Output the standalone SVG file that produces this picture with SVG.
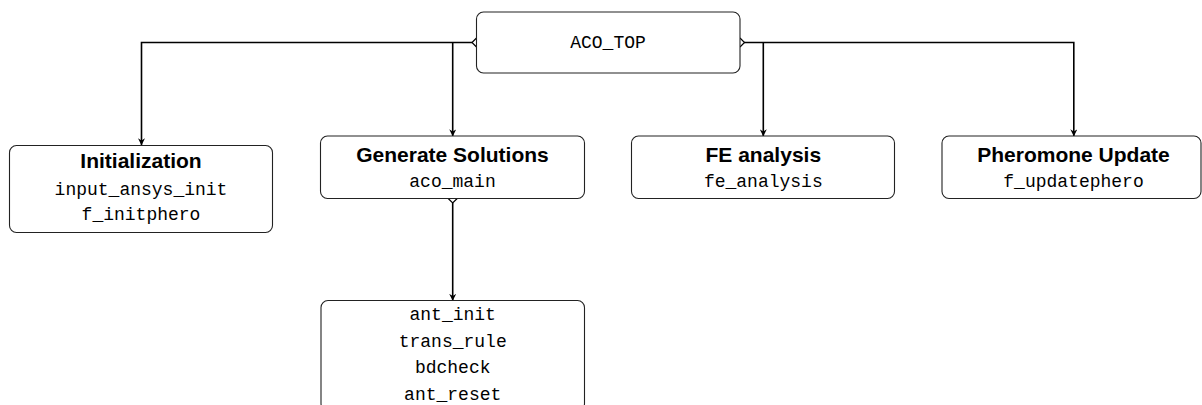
<svg xmlns="http://www.w3.org/2000/svg" width="1202" height="405" viewBox="0 0 1202 405">
<defs>
<style>
.box{fill:#fff;stroke:#222;stroke-width:1.1}
.ttl{font-family:"Liberation Sans",Arial,sans-serif;font-weight:bold;font-size:21px;fill:#000;text-anchor:middle}
.mono{font-family:"Liberation Mono","DejaVu Sans Mono",monospace;font-size:18px;fill:#000;text-anchor:middle}
.ln{fill:none;stroke:#000;stroke-width:1.6}
.chev{fill:none;stroke:#000;stroke-width:1.2}
</style>
<marker id="arr" viewBox="0 0 10 10" refX="9.5" refY="5" markerWidth="7" markerHeight="7" markerUnits="userSpaceOnUse" orient="auto">
<path d="M0,0 L10,5 L0,10 L3,5 Z" fill="#000"/>
</marker>
</defs>
<rect width="1202" height="405" fill="#fff"/>
<g id="connectors">
<path class="ln" d="M472,42.5 H141.5 V145" marker-end="url(#arr)"/>
<path class="ln" d="M452.7,42.5 V136" marker-end="url(#arr)"/>
<path class="ln" d="M744,42.5 H1073.8 V136" marker-end="url(#arr)"/>
<path class="ln" d="M763.3,42.5 V136" marker-end="url(#arr)"/>
<path class="ln" d="M452.7,203 V300.5" marker-end="url(#arr)"/>
<path class="chev" d="M476.5,38 L472,42.5 L476.5,47"/>
<path class="chev" d="M740,38 L744.5,42.5 L740,47"/>
<path class="chev" d="M448.2,198.5 L452.7,203 L457.2,198.5"/>
</g>
<g id="aco_top">
<rect class="box" x="476.5" y="12" width="263.5" height="61" rx="7"/>
<text class="mono" x="608" y="48">ACO_TOP</text>
</g>
<g id="initialization">
<rect class="box" x="9.5" y="145.5" width="263" height="87" rx="7"/>
<text class="ttl" x="141" y="168">Initialization</text>
<text class="mono" x="141" y="195">input_ansys_init</text>
<text class="mono" x="141" y="220">f_initphero</text>
</g>
<g id="generate">
<rect class="box" x="320.5" y="136" width="264" height="62.5" rx="7"/>
<text class="ttl" x="452.5" y="162">Generate Solutions</text>
<text class="mono" x="452.5" y="187">aco_main</text>
</g>
<g id="fe">
<rect class="box" x="631.5" y="136" width="263" height="62.5" rx="7"/>
<text class="ttl" x="763.3" y="162">FE analysis</text>
<text class="mono" x="763.3" y="187">fe_analysis</text>
</g>
<g id="pheromone">
<rect class="box" x="942" y="136" width="259" height="62.5" rx="7"/>
<text class="ttl" x="1073.5" y="162">Pheromone Update</text>
<text class="mono" x="1073.5" y="187">f_updatephero</text>
</g>
<g id="ant_routines">
<rect class="box" x="321" y="300.5" width="263.5" height="110" rx="7"/>
<text class="mono" x="452.7" y="320">ant_init</text>
<text class="mono" x="452.7" y="346.5">trans_rule</text>
<text class="mono" x="452.7" y="373">bdcheck</text>
<text class="mono" x="452.7" y="399.5">ant_reset</text>
</g>
</svg>
